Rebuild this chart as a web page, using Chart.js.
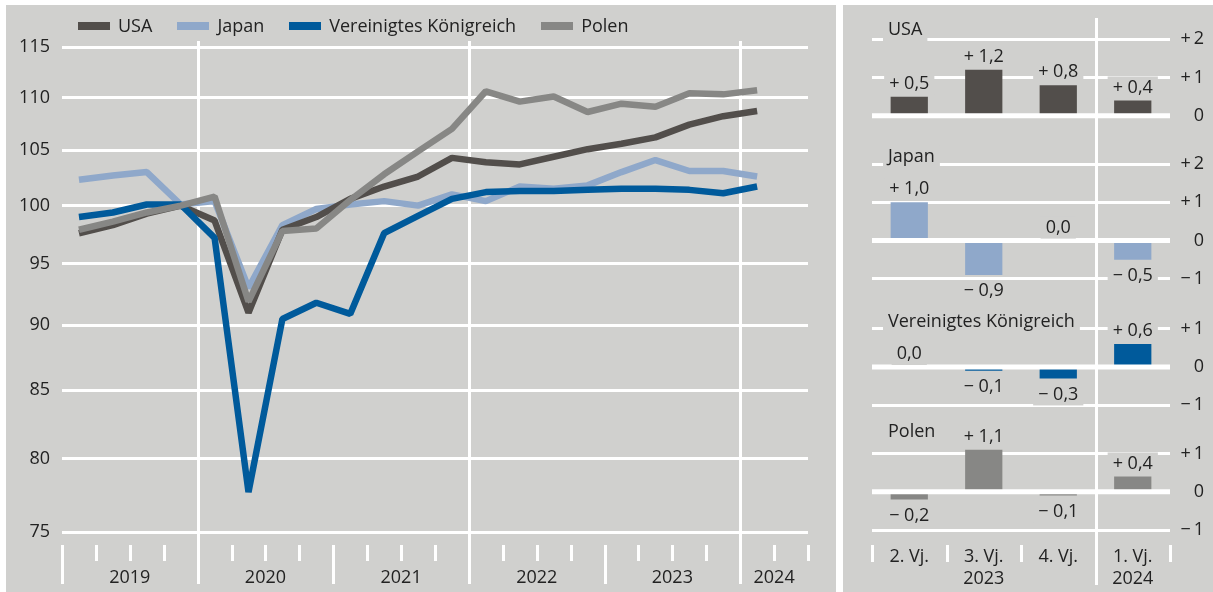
<!DOCTYPE html>
<html>
<head>
<meta charset="utf-8">
<script src="https://cdn.jsdelivr.net/npm/chart.js@4.4.1/dist/chart.umd.min.js"></script>
<style>
  html, body { margin: 0; padding: 0; background: #fff; }
  body { width: 1213px; height: 592px; position: relative; overflow: hidden; font-family: "Open Sans", sans-serif; }
  .panel { position: absolute; background: #d0d0ce; }
  #left { left: 6px; top: 5px; width: 830px; height: 587px; }
  #right { left: 843px; top: 5px; width: 370px; height: 587px; }
  canvas { position: absolute; left: 0; top: 0; }
  #legend { position: absolute; left: 72px; top: 9px; display: flex; align-items: center; gap: 25px; font-size: 18px; line-height: 22px; color: #222; }
  #legend .sw { display: inline-block; width: 32px; height: 8px; margin-right: 8px; vertical-align: middle; position: relative; top: -1px; }
</style>
</head>
<body>
<div class="panel" id="left">
  <canvas id="lines" width="830" height="587"></canvas>
  <div id="legend"></div>
</div>
<div class="panel" id="right">
  <canvas id="bars" width="370" height="587"></canvas>
</div>
<script>
// Index (log scale), quarterly
const quarters = ['2019 Q1', '2019 Q2', '2019 Q3', '2019 Q4',
  '2020 Q1', '2020 Q2', '2020 Q3', '2020 Q4',
  '2021 Q1', '2021 Q2', '2021 Q3', '2021 Q4',
  '2022 Q1', '2022 Q2', '2022 Q3', '2022 Q4',
  '2023 Q1', '2023 Q2', '2023 Q3', '2023 Q4',
  '2024 Q1', '2024 Q2'];
const years = ['2019', '2020', '2021', '2022', '2023', '2024'];
const yTicks = [75, 80, 85, 90, 95, 100, 105, 110, 115];

const usa = [97.6, 98.3, 99.3, 100.0, 98.7, 91.0, 97.9, 99.0, 100.6, 101.7, 102.6, 104.3, 103.9, 103.7, 104.4, 105.1, 105.6, 106.2, 107.4, 108.2, 108.7];
const japan = [102.3, 102.7, 103.0, 100.1, 100.4, 93.0, 98.3, 99.7, 100.1, 100.4, 100.0, 101.0, 100.4, 101.7, 101.5, 101.8, 103.0, 104.1, 103.1, 103.1, 102.6];
const uk = [99.0, 99.4, 100.1, 100.1, 97.2, 77.7, 90.5, 91.8, 90.9, 97.6, 99.1, 100.6, 101.2, 101.3, 101.3, 101.4, 101.5, 101.5, 101.4, 101.1, 101.7];
const polen = [97.9, 98.6, 99.4, 100.0, 100.8, 91.9, 97.8, 98.0, 100.5, 102.8, 104.9, 107.0, 110.6, 109.6, 110.1, 108.6, 109.4, 109.1, 110.4, 110.3, 110.7];

// Veränderung gegenüber Vorquartal in %
const vj = [['2. Vj.'], ['3. Vj.', '2023'], ['4. Vj.'], ['1. Vj.', '2024']];
const usaQ = [0.5, 1.2, 0.8, 0.4];
const japanQ = [1.0, -0.9, 0.0, -0.5];
const ukQ = [0.0, -0.1, -0.3, 0.6];
const polenQ = [-0.2, 1.1, -0.1, 0.4];
const usaTicks = [0, 1, 2];
const japanTicks = [-1, 0, 1, 2];
const ukTicks = [-1, 0, 1];
const polenTicks = [-1, 0, 1];

const PANEL = '#d0d0ce';
const TEXT = '#222';
const C_USA = '#524e4b', C_JP = '#8fa8ca', C_UK = '#005a9b', C_PL = '#878785';
const font = { family: 'Open Sans', size: 18 };

// ---------- left: line chart ----------
const line = (label, data, color, order) => ({
  label, data, order, xAxisID: 'x', yAxisID: 'y',
  borderColor: color, backgroundColor: color, borderWidth: 6.5,
  borderJoinStyle: 'bevel', pointRadius: 0, tension: 0
});

const yearDeco = {
  id: 'yearDeco',
  beforeDatasetsDraw(chart) {
    const s = chart.scales.xYear, ctx = chart.ctx, b = chart.chartArea.bottom;
    ctx.save();
    ctx.strokeStyle = '#fff';
    ctx.lineWidth = 3;
    for (let q = 0; q <= s.max; q++) {
      const x = Math.round(s.getPixelForValue(q)) + 0.5;
      let y0 = b, y1 = b + 16;
      if (q % 4 === 0) {
        y1 = 579;
        if (q % 8 === 4) y0 = 36;
      }
      ctx.beginPath();
      ctx.moveTo(x, y0);
      ctx.lineTo(x, y1);
      ctx.stroke();
    }
    ctx.restore();
  }
};

const lineChart = new Chart(document.getElementById('lines'), {
  type: 'line',
  data: {
    labels: quarters,
    datasets: [
      line('USA', usa, C_USA, 2),
      line('Japan', japan, C_JP, 3),
      line('Vereinigtes Königreich', uk, C_UK, 1),
      line('Polen', polen, C_PL, 0)
    ]
  },
  options: {
    responsive: false,
    animation: false,
    events: [],
    layout: { padding: { left: 0, right: 28, top: 42, bottom: 0 } },
    plugins: { legend: { display: false }, tooltip: { enabled: false } },
    scales: {
      x: { type: 'category', offset: true, display: false },
      xYear: {
        type: 'linear', axis: 'x', position: 'bottom', min: 0, max: 22,
        afterBuildTicks: s => {
          s.ticks = years.map((y, i) => ({ value: (Math.max(0, 4 * i) + Math.min(22, 4 * i + 4)) / 2 }));
        },
        afterFit: s => { s.height = 47; },
        grid: { display: false, drawTicks: false },
        border: { display: false },
        ticks: { autoSkip: false, maxRotation: 0, padding: 22, color: TEXT, font, callback: (v, i) => years[i] }
      },
      y: {
        type: 'logarithmic', position: 'left', min: 74.16, max: 115, bounds: 'data',
        afterBuildTicks: s => { s.ticks = yTicks.map(v => ({ value: v })); },
        afterFit: s => { s.width = 56; },
        grid: { color: '#fff', lineWidth: 3, drawTicks: false },
        border: { display: false },
        ticks: { padding: 12, color: TEXT, font, callback: v => String(v) }
      }
    }
  },
  plugins: [yearDeco]
});

// legend built from the datasets
const legend = document.getElementById('legend');
lineChart.data.datasets.forEach(ds => {
  const item = document.createElement('span');
  const sw = document.createElement('span');
  sw.className = 'sw';
  sw.style.background = ds.borderColor;
  item.appendChild(sw);
  item.appendChild(document.createTextNode(ds.label));
  legend.appendChild(item);
});

// ---------- right: four small bar panels ----------
const signed = v => v > 0 ? '+ ' + v.toFixed(1).replace('.', ',')
  : v < 0 ? '\u2212 ' + (-v).toFixed(1).replace('.', ',') : '0,0';
const axisLabel = v => v > 0 ? '+\u2009' + v : v < 0 ? '\u2212\u2009' + (-v) : '0';

const panelScale = (min, max, ticks) => ({
  type: 'linear', position: 'right', stack: 'panels', stackWeight: max - min, min, max,
  afterBuildTicks: s => { s.ticks = ticks.map(v => ({ value: v })); },
  afterFit: s => { s.width = 43; s.paddingTop = 0; s.paddingBottom = 0; },
  grid: { color: '#fff', lineWidth: 3, drawTicks: false },
  border: { display: false },
  ticks: { display: false }
});

const bar = (label, data, color, axis) => ({
  label, data, yAxisID: axis, backgroundColor: color,
  grouped: false, categoryPercentage: 1, barPercentage: 0.5
});

const titleDy = [13, 17, 18, 3];

function boxedText(ctx, text, x, y, align) {
  const w = ctx.measureText(text).width;
  const left = align === 'left' ? x : x - w / 2;
  ctx.fillStyle = PANEL;
  ctx.fillRect(left - 5, y - 11, w + 10, 22);
  ctx.fillStyle = TEXT;
  ctx.textAlign = align;
  ctx.fillText(text, x, y);
}

const panelDeco = {
  id: 'panelDeco',
  afterDatasetsDraw(chart) {
    const ctx = chart.ctx, area = chart.chartArea, xs = chart.scales.x;
    ctx.save();
    ctx.strokeStyle = '#fff';
    // zero lines above the bars
    ctx.lineWidth = 5;
    chart.data.datasets.forEach(ds => {
      const y = chart.scales[ds.yAxisID].getPixelForValue(0);
      ctx.beginPath();
      ctx.moveTo(area.left, y);
      ctx.lineTo(area.right, y);
      ctx.stroke();
    });
    // category boundary ticks and the 2023 | 2024 divider
    ctx.lineWidth = 3;
    const n = xs.getLabels().length;
    for (let i = 0; i <= n; i++) {
      const x = Math.round(area.left + (area.right - area.left) * i / n) + 0.5;
      ctx.beginPath();
      if (i === n - 1) {
        ctx.moveTo(x, 13);
        ctx.lineTo(x, 580);
      } else {
        ctx.moveTo(x, area.bottom);
        ctx.lineTo(x, area.bottom + 17);
      }
      ctx.stroke();
    }
    ctx.font = '18px "Open Sans"';
    ctx.textBaseline = 'middle';
    // right-aligned axis labels of each panel
    ctx.fillStyle = TEXT;
    ctx.textAlign = 'right';
    chart.data.datasets.forEach(ds => {
      const ys = chart.scales[ds.yAxisID];
      ys.ticks.forEach(t => ctx.fillText(axisLabel(t.value), area.right + 34, ys.getPixelForValue(t.value)));
    });
    // value labels and panel titles
    chart.data.datasets.forEach((ds, d) => {
      const meta = chart.getDatasetMeta(d);
      meta.data.forEach((el, i) => {
        const v = ds.data[i];
        const y = v < 0 ? el.y + 16 : el.y - 13;
        boxedText(ctx, signed(v), el.x, y, 'center');
      });
      const ys = chart.scales[ds.yAxisID];
      boxedText(ctx, ds.label, 45, ys.top + titleDy[d], 'left');
    });
    ctx.restore();
  }
};

new Chart(document.getElementById('bars'), {
  type: 'bar',
  data: {
    labels: vj,
    datasets: [
      bar('USA', usaQ, C_USA, 'yUSA'),
      bar('Japan', japanQ, C_JP, 'yJP'),
      bar('Vereinigtes Königreich', ukQ, C_UK, 'yUK'),
      bar('Polen', polenQ, C_PL, 'yPL')
    ]
  },
  options: {
    responsive: false,
    animation: false,
    events: [],
    layout: { padding: { left: 29, right: 0, top: 12, bottom: 0 } },
    plugins: { legend: { display: false }, tooltip: { enabled: false } },
    scales: {
      x: {
        type: 'category', position: 'bottom', offset: true,
        afterFit: s => { s.height = 47; },
        grid: { display: false, drawTicks: false },
        border: { display: false },
        ticks: { autoSkip: false, maxRotation: 0, padding: 1, color: TEXT, font }
      },
      yUSA: panelScale(-0.63, 2.58, usaTicks),
      yJP: panelScale(-1.65, 2.63, japanTicks),
      yUK: panelScale(-1.63, 1.65, ukTicks),
      yPL: panelScale(-1.39, 1.63, polenTicks)
    }
  },
  plugins: [panelDeco]
});
</script>
</body>
</html>
